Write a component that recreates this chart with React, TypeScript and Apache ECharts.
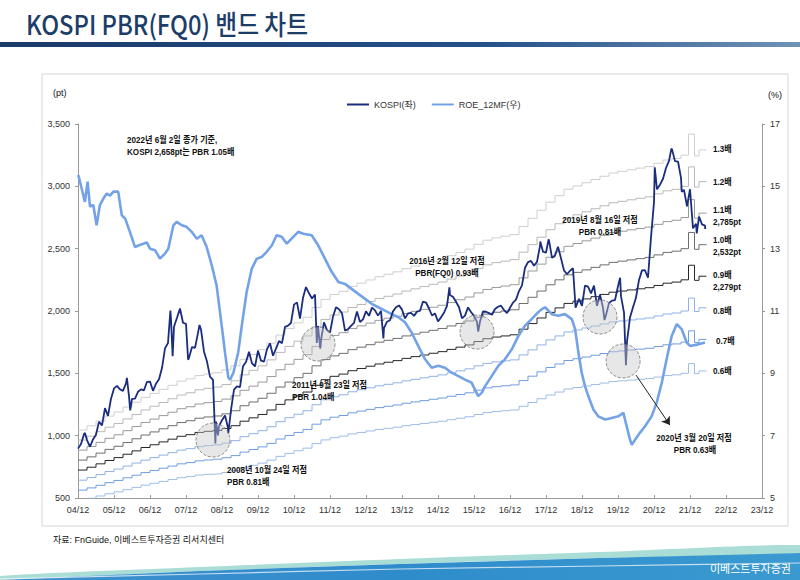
import React, { useEffect, useRef } from "react";
import * as echarts from "echarts";

// x axis: months counted from end of Dec 2004 (tick "04/12" = 0)
const xTickLabels = ["04/12","05/12","06/12","07/12","08/12","09/12","10/12","11/12","12/12","13/12","14/12","15/12","16/12","17/12","18/12","19/12","20/12","21/12","22/12","23/12"];

// KOSPI month-end closes, index 0 = Dec 2004, 1 = Jan 2005 ...
const kospiMonthEnd: number[] = [
  896,
  933, 1012, 965, 911, 970, 1008, 1111, 1083, 1221, 1158, 1297, 1379,
  1399, 1371, 1359, 1419, 1317, 1295, 1297, 1352, 1371, 1364, 1432, 1434,
  1360, 1417, 1453, 1542, 1700, 1743, 1933, 1873, 1946, 2020, 1906, 1897,
  1624, 1711, 1704, 1825, 1852, 1674, 1594, 1474, 1448, 1113, 1076, 1124,
  1162, 1063, 1206, 1369, 1395, 1390, 1557, 1591, 1673, 1580, 1555, 1682,
  1602, 1594, 1692, 1741, 1641, 1698, 1759, 1742, 1873, 1882, 1904, 2051,
  2069, 1939, 2106, 2192, 2142, 2100, 2133, 1880, 1769, 1909, 1847, 1826,
  1955, 2030, 2014, 1982, 1843, 1854, 1881, 1905, 1996, 1912, 1933, 1997,
  1961, 2027, 2005, 1963, 2001, 1863, 1914, 1926, 1997, 2030, 2045, 2011,
  1941, 1980, 1985, 1961, 1995, 2002, 2076, 2068, 2020, 1964, 1981, 1916,
  1949, 1986, 2041, 2127, 2114, 2074, 2030, 1941, 1963, 2029, 1992, 1961,
  1912, 1916, 1996, 1994, 1983, 1970, 2016, 2034, 2043, 2008, 1983, 2026,
  2067, 2091, 2160, 2205, 2347, 2392, 2402, 2363, 2394, 2523, 2476, 2467,
  2566, 2427, 2445, 2515, 2423, 2326, 2295, 2323, 2343, 2029, 2097, 2041,
  2204, 2195, 2141, 2204, 2042, 2131, 2025, 1968, 2063, 2083, 2088, 2198,
  2119, 1987, 1755, 1947, 2030, 2108, 2249, 2326, 2327, 2267, 2591, 2873,
  2976, 3013, 3061, 3147, 3204, 3297, 3202, 3199, 3068, 2971, 2839, 2977,
  2663, 2699, 2757, 2695, 2685
];
// intra-month weekly closes (month offset, value)
const kospiWeekly: [number, number][] = [
  [2.32, 1022], [16.3, 1464], [17.4, 1203], [30.8, 2004], [31.55, 1638],
  [36.7, 1609], [40.5, 1888], [45.8, 938], [46.65, 1003], [50.1, 1018],
  [79.6, 1744], [80.75, 1697], [101.8, 1780], [123.8, 2189], [133.4, 1835],
  [154.1, 2557], [156.85, 2574], [165.85, 2027], [175.5, 1927], [180.7, 2267],
  [182.65, 1566], [192.25, 3152], [197.8, 3302], [201.25, 2957], [206.25, 2622],
  [209.07, 2658]
];

// ROE 12MF (%) (month offset, value)
const roe12mf: [number, number][] = [
  [0.1,15.36],[1.2,14.94],[2.3,14.5],[3.2,15.15],[4,14.35],[5.1,14.4],[6.2,13.75],[7.3,14.4],[8.4,14.6],[9.6,14.77],
  [10.7,14.7],[11.8,14.83],[13.4,14.83],[14.6,14.07],[15.7,13.97],[17.3,13.54],[19,13.05],[20.1,13.1],[21.8,13.16],[22.9,13.2],
  [24,13.0],[25.7,12.95],[27.3,12.68],[29,12.84],[30.1,13.0],[31.8,13.75],[32.9,13.86],[34.6,13.75],[36.2,13.7],[37.9,13.54],
  [39.6,13.32],[41.2,13.43],[42.9,13.05],[44.6,12.46],[46.2,11.82],[47.9,10.53],[49,9.67],[50.1,8.86],[50.7,8.8],[51.8,9.02],
  [53.4,9.67],[54.6,10.53],[56.2,11.6],[57.9,12.35],[59.6,12.68],[61.2,12.73],[62.9,12.9],[64.6,13.1],[66.2,13.43],[67.9,13.38],
  [69.6,13.16],[71.2,13.32],[73.4,13.54],[75.1,13.48],[77.9,13.43],[80.1,13.1],[82.3,12.68],[84.6,12.25],[86.8,11.93],[89,11.87],
  [91.2,11.71],[93.4,11.55],[95.7,11.39],[97.9,11.23],[100.1,11.12],[102.3,11.01],[104.6,10.9],[106.8,10.8],[109,10.64],[111.2,10.31],
  [113.4,9.88],[115.7,9.45],[117.9,9.18],[120.1,9.24],[122.3,9.18],[124.6,9.02],[126.8,8.91],[129,8.8],[131.2,8.7],[132.3,8.48],
  [133.4,8.27],[134.6,8.38],[135.7,8.59],[137.9,8.91],[140.1,9.24],[142.3,9.45],[144.6,9.77],[146.8,10.2],[149,10.53],[151.2,10.74],
  [152.3,10.85],[153.4,10.96],[154.6,11.06],[155.7,11.12],[157.9,10.9],[160.1,10.85],[162.3,10.9],[164.6,10.74],[165.7,10.42],[166.8,9.67],
  [167.9,9.02],[169,8.59],[170.1,8.27],[171.8,7.84],[173.4,7.62],[175.7,7.52],[177.9,7.57],[180.1,7.62],[181.8,7.73],[182.9,7.3],
  [184,6.87],[184.6,6.71],[185.7,6.87],[187.3,7.09],[189,7.3],[191.2,7.62],[192.9,8.06],[194.6,8.7],[196.2,9.45],[197.9,10.2],
  [199.6,10.58],[201.2,10.42],[202.9,9.99],[204,9.88],[206.8,9.93],[209,9.99]
];

// BPS (FQ0) (month offset, pt)
const bpsMonths: number[] = [0,3,6,9,12,15,18,21,24,27,30,33,36,39,42,45,48,51,54,57,60,63,66,69,72,75,78,81,84,87,90,93,96,99,102,105,108,111,114,117,120,123,126,129,132,135,138,141,144,147,150,153,156,159,162,165,168,171,174,177,180,183,186,189,192,195,198,201,203.5,205.5,207,209.5];
const bpsValues: number[] = [804,830,860,890,915,945,975,1005,1030,1055,1080,1105,1120,1140,1150,1158,1175,1200,1240,1270,1300,1340,1390,1430,1465,1500,1560,1610,1640,1660,1690,1710,1730,1750,1765,1780,1800,1815,1830,1845,1860,1880,1900,1920,1950,1975,1990,2000,2010,2060,2110,2160,2210,2250,2290,2310,2330,2350,2370,2390,2400,2410,2420,2430,2450,2470,2480,2500,2630,2495,2532,2532];

const bandMultiples: number[] = [1.3, 1.2, 1.1, 1.0, 0.9, 0.8, 0.7, 0.6];
const bandNames: string[] = ["1.3배", "1.2배", "1.1배", "1.0배", "0.9배", "0.8배", "0.7배", "0.6배"];
const bandEndPts: (string | null)[] = [null, null, "2,785pt", "2,532pt", "2,279pt", null, null, null];
const bandColors: string[] = ["#cfcfcf", "#b9b9b9", "#9a9a9a", "#6e6e6e", "#262626", "#8fb3e6", "#6f9de0", "#9dbde9"];
const bandLabelY: number[] = [149, 182, 210, 240, 275, 311, 341, 371];

// low points circled (month offset, pt)
const lowCircles: [number, number][] = [[45, 965], [80, 1735], [133, 1831], [174, 1952], [181.7, 1599]];

const FONT = "'Liberation Sans Narrow','Liberation Sans','Noto Sans CJK KR',sans-serif";

export default function App() {
  const ref = useRef<HTMLDivElement>(null);
  useEffect(() => {
    const chart = echarts.init(ref.current!, null, { renderer: "svg" });

    const kospiData: [number, number][] = kospiMonthEnd
      .map((v, i) => [i, v] as [number, number])
      .concat(kospiWeekly)
      .sort((a, b) => a[0] - b[0]);

    const bandSeries = bandMultiples.map((k, i) => ({
      type: "line",
      name: bandNames[i],
      data: bpsMonths.map((m, j) => [m, Math.round(k * bpsValues[j])]),
      step: "end",
      showSymbol: false,
      silent: true,
      lineStyle: { width: 1, color: bandColors[i] },
      z: 2,
    }));

    const txt = (x: number, y: number, text: string, align = "left", size = 9, weight: any = "bold", sx = 0.9) => ({
      type: "text",
      x,
      y,
      scaleX: sx,
      silent: true,
      style: { text, fontSize: size, lineHeight: 10, fontWeight: weight, fontFamily: FONT, fill: "#111", align, verticalAlign: "middle" },
      z: 20,
    });

    const graphics: any[] = [
      // title
      {
        type: "text", x: 26, y: 23, scaleX: 0.88,
        style: { text: "KOSPI PBR(FQ0) 밴드 차트", fontSize: 27, fontWeight: 500, fontFamily: "'Noto Sans CJK KR',sans-serif", fill: "#1d3d69", verticalAlign: "middle" },
      },
      {
        type: "rect", shape: { x: 0, y: 42, width: 800, height: 5 },
        style: { fill: new echarts.graphic.LinearGradient(0, 0, 1, 0, [
          { offset: 0, color: "#1b3a68" }, { offset: 0.6, color: "#24508a" }, { offset: 1, color: "#6f93b6" }]) },
      },
      // frame
      { type: "rect", shape: { x: 42, y: 74, width: 746, height: 452 }, style: { fill: "none", stroke: "#d6d6d6", lineWidth: 1 }, z: -1 },
      // axis names
      txt(53, 93, "(pt)", "left", 9, "normal", 1),
      txt(768, 95, "(%)", "left", 9, "normal", 1),
      // annotations
      txt(127, 140, "2022년 6월 2일 종가 기준,"),
      txt(127, 152, "KOSPI 2,658pt는 PBR 1.05배"),
      txt(227, 470, "2008년 10월 24일 저점"),
      txt(227, 482, "PBR 0.81배"),
      txt(292, 385, "2011년 9월 23일 저점"),
      txt(292, 397, "PBR 1.04배"),
      txt(447, 261, "2016년 2월 12일 저점", "center"),
      txt(447, 273, "PBR(FQ0) 0.93배", "center"),
      txt(600, 220, "2019년 8월 16일 저점", "center"),
      txt(600, 232, "PBR 0.81배", "center"),
      txt(694, 438, "2020년 3월 20일 저점", "center"),
      txt(695, 450, "PBR 0.63배", "center"),
      // footer
      txt(53, 540, "자료: FnGuide, 이베스트투자증권 리서치센터", "left", 9, "normal", 1),
      // bottom banner
      {
        type: "polygon",
        shape: { points: [[0, 576], [200, 567], [400, 559], [600, 552], [800, 545], [800, 553], [600, 558], [400, 564], [200, 571], [0, 580]], smooth: 0.3 },
        style: { fill: "#a9ddd6" },
      },
      {
        type: "polygon",
        shape: { points: [[0, 580], [200, 571], [400, 564], [600, 558], [800, 553], [800, 580]] },
        style: { fill: new echarts.graphic.LinearGradient(0, 0, 1, 0, [
          { offset: 0, color: "#3f8fcf" }, { offset: 0.5, color: "#2f8ccb" }, { offset: 1, color: "#3a9ad0" }]) },
      },
      {
        type: "polyline",
        shape: { points: [[0, 579], [200, 574], [400, 569], [600, 566], [800, 563]], smooth: 0.3 },
        style: { stroke: "rgba(255,255,255,0.7)", lineWidth: 1.2, fill: "none" },
      },
      {
        type: "text", x: 710, y: 568,
        style: { text: "이베스트투자증권", fontSize: 11, fontFamily: "'Noto Sans CJK KR',sans-serif", fill: "#ffffff", verticalAlign: "middle" },
      },
    ];

    bandNames.forEach((n, i) => {
      if (bandEndPts[i]) {
        graphics.push(txt(713, bandLabelY[i], n));
        graphics.push(txt(713, bandLabelY[i] + 12, bandEndPts[i] as string));
      } else {
        graphics.push(txt(i === 6 ? 716 : 713, bandLabelY[i], n));
      }
    });

    const axisLabel = { color: "#333", fontSize: 9, fontFamily: FONT };

    chart.setOption({
      animation: false,
      textStyle: { fontFamily: FONT },
      grid: { left: 78, right: 38, top: 124, bottom: 82 },
      legend: {
        data: [
          { name: "KOSPI(좌)", icon: "rect" },
          { name: "ROE_12MF(우)", icon: "rect" },
        ],
        left: 342, top: 95, itemWidth: 22, itemHeight: 2, itemGap: 16,
        textStyle: { fontSize: 9, color: "#333", fontFamily: FONT },
      },
      xAxis: {
        type: "value", min: 0, max: 228, interval: 12,
        axisLine: { show: true, lineStyle: { color: "#9a9a9a" } },
        axisTick: { show: true, inside: true, length: 3, lineStyle: { color: "#9a9a9a" } },
        splitLine: { show: false },
        axisLabel: { ...axisLabel, margin: 7, formatter: (v: number) => xTickLabels[Math.round(v / 12)] ?? "" },
      },
      yAxis: [
        {
          type: "value", min: 500, max: 3500, interval: 500,
          axisLine: { show: true, lineStyle: { color: "#9a9a9a" } },
          axisTick: { show: true, length: 3, lineStyle: { color: "#9a9a9a" } },
          splitLine: { show: false },
          axisLabel: { ...axisLabel, margin: 8, formatter: (v: number) => v.toLocaleString("en-US") },
        },
        {
          type: "value", min: 5, max: 17, interval: 2,
          axisLine: { show: true, lineStyle: { color: "#9a9a9a" } },
          axisTick: { show: true, length: 3, lineStyle: { color: "#9a9a9a" } },
          splitLine: { show: false },
          axisLabel: { ...axisLabel, margin: 8 },
        },
      ],
      series: [
        ...bandSeries,
        {
          type: "line", name: "ROE_12MF(우)", yAxisIndex: 1, data: roe12mf,
          showSymbol: false, lineStyle: { width: 2.6, color: "#74a2e6" }, itemStyle: { color: "#74a2e6" }, z: 3,
        },
        {
          type: "line", name: "KOSPI(좌)", data: kospiData,
          showSymbol: false, lineStyle: { width: 1.8, color: "#1b2d7e" }, itemStyle: { color: "#1b2d7e" }, z: 4,
          markLine: {
            silent: true, symbol: ["none", "arrow"], symbolSize: 8,
            label: { show: false },
            lineStyle: { color: "#222", width: 1, type: "solid" },
            data: [[{ coord: [186, 1486] }, { coord: [197.3, 1085] }]],
          },
        },
        {
          type: "scatter", name: "lows", data: lowCircles, symbol: "circle", symbolSize: 34, silent: true, z: 5,
          itemStyle: {
            color: "rgba(200,200,200,0.55)", borderColor: "#555", borderWidth: 0.8, borderType: "dashed",
            decal: { symbol: "rect", symbolSize: 1, dashArrayX: [1, 2], dashArrayY: [1, 2], color: "rgba(90,90,90,0.35)" },
          },
        },
      ],
      graphic: graphics,
    });
    return () => chart.dispose();
  }, []);
  return <div ref={ref} style={{ position: "fixed", left: 0, top: 0, width: 800, height: 580, background: "#fff" }} />;
}
